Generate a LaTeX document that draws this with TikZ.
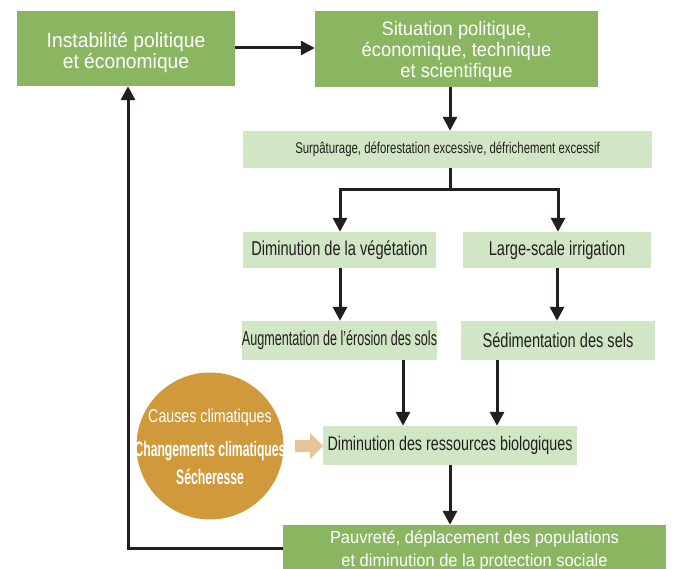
\documentclass[tikz,border=0pt]{standalone}
\usepackage{fontspec}
\setmainfont{Liberation Sans}
\newfontfamily\darkfont{Liberation Sans}[FakeStretch=0.94]
\newfontfamily\lightfont{Liberation Sans}[FakeStretch=0.73]
\newfontfamily\narrowfont{Liberation Sans}[FakeStretch=0.62]
\newfontfamily\circfont{Liberation Sans}[FakeStretch=0.77]
\newfontfamily\circbold{Liberation Sans Bold}[FakeStretch=0.58]
\usetikzlibrary{arrows.meta}
\definecolor{dgreen}{HTML}{8BB661}
\definecolor{lgreen}{HTML}{D0E6C5}
\definecolor{ocre}{HTML}{D09A3C}
\definecolor{tan}{HTML}{E6C497}
\definecolor{ink}{HTML}{231F20}
\tikzset{
  dark/.style={fill=dgreen, text=white, align=center, inner sep=0pt, font=\darkfont\fontsize{20}{21}\selectfont},
  darktext/.style={text=white, align=center, inner sep=0pt},
  light/.style={fill=lgreen, text=ink, align=center, inner sep=0pt, font=\lightfont\fontsize{20}{22}\selectfont},
  arr/.style={draw=ink, line width=3pt, -{Triangle[width=14pt,length=14pt]}},
  ln/.style={draw=ink, line width=3pt},
}
\begin{document}
\begin{tikzpicture}[x=1pt,y=-1pt]
\useasboundingbox (0,0) rectangle (684,569);
\node[dark, minimum width=218, minimum height=75] (a) at (126,48.5) {};
\node[darktext, font=\darkfont\fontsize{20.5}{21}\selectfont] (at) at (126,53) {Instabilité politique\\et économique};
\node[dark, minimum width=283, minimum height=76] (b) at (456.5,49) {};
\node[darktext, font=\darkfont\fontsize{19.5}{21}\selectfont] (bt) at (456.5,51) {Situation politique,\\économique, technique\\et scientifique};
\node[light, minimum width=409, minimum height=37, font=\lightfont\fontsize{15.6}{17}\selectfont] (c) at (447.5,149.5) {Surpâturage, déforestation excessive, défrichement excessif};
\node[light, minimum width=193, minimum height=36] (d) at (339.5,250) {Diminution de la végétation};
\node[light, minimum width=188, minimum height=36] (e) at (557,250) {Large-scale irrigation};
\node[light, minimum width=193, minimum height=39, font=\narrowfont\fontsize{20.3}{22}\selectfont] (f) at (339.5,340.5) {Augmentation de l’érosion des sols};
\node[light, minimum width=194, minimum height=39] (g) at (558,340.5) {Sédimentation des sels};
\node[light, minimum width=254, minimum height=39, font=\lightfont\fontsize{19.6}{21}\selectfont] (h) at (450,445.5) {Diminution des ressources biologiques};
\node[dark, minimum width=383, minimum height=50, font=\darkfont\fontsize{17.5}{23}\selectfont] (i) at (474.5,550) {Pauvreté, déplacement des populations\\et diminution de la protection sociale};
\node[circle, fill=ocre, minimum size=147, inner sep=0pt] (k) at (210,446) {};
\node[text=white, font=\circfont\fontsize{18.5}{20}\selectfont] (k1) at (210,418) {Causes climatiques};
\node[text=white, font=\circbold\fontsize{21}{22}\selectfont] (k2) at (210,451) {Changements climatiques};
\node[text=white, font=\circbold\fontsize{21}{22}\selectfont] (k3) at (210,477) {Sécheresse};
\fill[tan] (295,440) -- (310,440) -- (310,433) -- (323,446) -- (310,459) -- (310,452) -- (295,452) -- cycle;
\draw[arr] (a.east |- 0,48) -- (b.west |- 0,48);
\draw[arr] (450,0 |- b.south) -- (450,0 |- c.north);
\coordinate (j1) at (450,190);
\coordinate (j2) at (340,190);
\coordinate (j3) at (558,190);
\draw[ln] (450,0 |- c.south) -- (j1);
\draw[ln] ([xshift=-1.5pt]j2) -- ([xshift=1.5pt]j3);
\draw[arr] (j2) -- (j2 |- d.north);
\draw[arr] (j3) -- (j3 |- e.north);
\draw[arr] (340,0 |- d.south) -- (340,0 |- f.north);
\draw[arr] (557,0 |- e.south) -- (557,0 |- g.north);
\draw[arr] (403,0 |- f.south) -- (403,0 |- h.north);
\draw[arr] (497,0 |- g.south) -- (497,0 |- h.north);
\draw[arr] (450,0 |- h.south) -- (450,0 |- i.north);
\draw[arr] (i.west |- 0,548) -- (128,548) -- (128,0 |- a.south);
\end{tikzpicture}
\end{document}
